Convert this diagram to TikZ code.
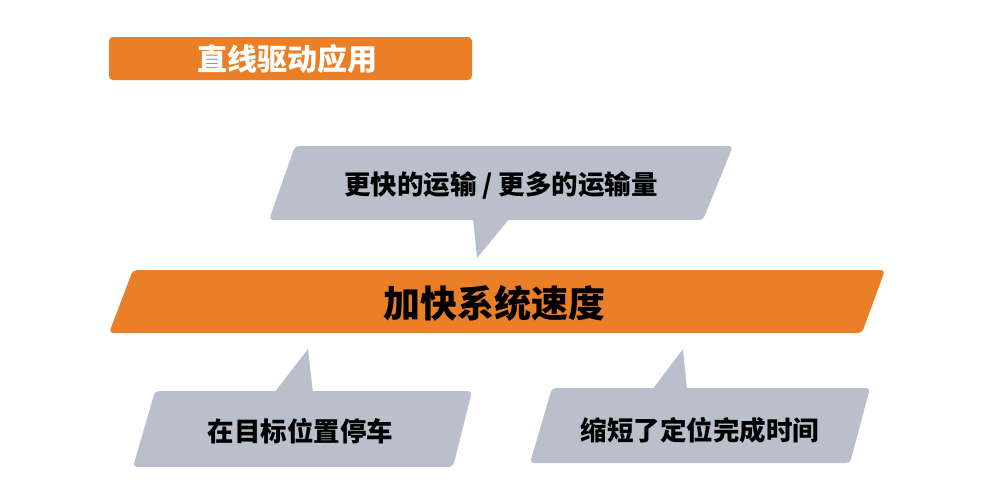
\documentclass[tikz,border=0pt]{standalone}
\usepackage{fontspec}
\newfontfamily\cjk{Noto Sans CJK SC}
\definecolor{orng}{HTML}{EB7F27}
\definecolor{slate}{HTML}{B9C0CB}
\begin{document}
\begin{tikzpicture}[x=1pt,y=-1pt,
  orangebox/.style={fill=orng, rounded corners=4pt},
  slatebox/.style={fill=slate, rounded corners=4pt},
  tailshape/.style={fill=slate},
  titletext/.style={text=white, inner sep=0pt, font=\cjk\bfseries\fontsize{30}{30}\selectfont},
  maintext/.style={text=black, inner sep=0pt, font=\cjk\bfseries\fontsize{37}{37}\selectfont},
  calltext/.style={text=black, inner sep=0pt, font=\cjk\bfseries\fontsize{26.5}{26.5}\selectfont}]
\useasboundingbox (0,0) rectangle (1000,491);
\fill[white] (0,0) rectangle (1000,491);
% title bar
\path[orangebox] (109,37) rectangle (472,80);
\node[titletext] (title) at (287.5,59) {直线驱动应用};
% top callout
\path[slatebox] (295,146) -- (733,146) -- (703,220) -- (269,220) -- cycle;
\path[tailshape] (473,218) -- (510,218) -- (477,258) -- cycle;
\node[calltext] (top) at (501,185) {更快的运输 / 更多的运输量};
% main bar
\path[orangebox] (133,270) -- (885,270) -- (862,333) -- (109,333) -- cycle;
\node[maintext] (main) at (494,303) {加快系统速度};
% bottom left callout
\path[slatebox] (155,391) -- (472,391) -- (453,467) -- (133,467) -- cycle;
\path[tailshape] (274,393) -- (313,393) -- (308,349) -- cycle;
\node[calltext] (bl) at (300.5,431) {在目标位置停车};
% bottom right callout
\path[slatebox] (552,388) -- (870,388) -- (850,463) -- (530,463) -- cycle;
\path[tailshape] (652,390) -- (687,390) -- (683,349) -- cycle;
\node[calltext] (br) at (700,430) {缩短了定位完成时间};
\end{tikzpicture}
\end{document}
